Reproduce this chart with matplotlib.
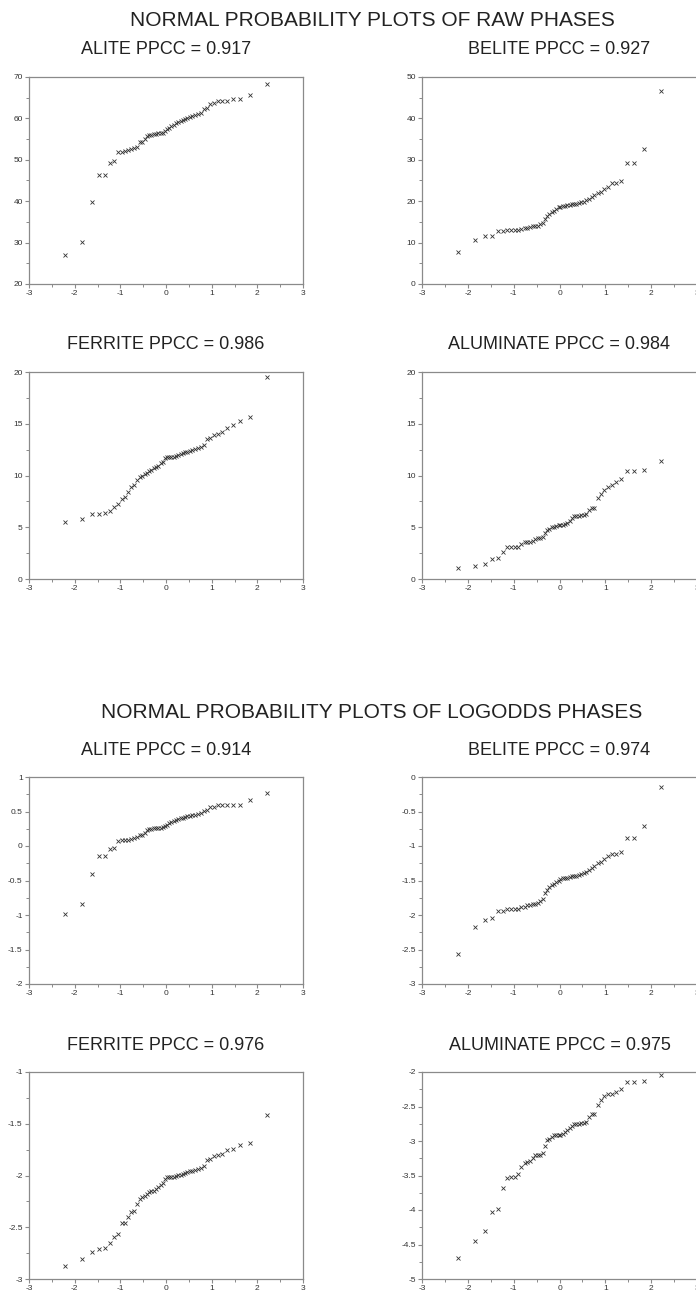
import matplotlib
matplotlib.use("Agg")
import matplotlib.pyplot as plt
from matplotlib.ticker import MultipleLocator

plt.rcParams["font.family"] = ["Liberation Sans", "DejaVu Sans"]
plt.rcParams["axes.unicode_minus"] = False

# normal order-statistic medians shared by every phase (52 clinker samples)
QUANTILES = [-2.22, -1.85, -1.63, -1.47, -1.34, -1.23, -1.14, -1.05, -0.97, -0.90,
             -0.83, -0.76, -0.70, -0.64, -0.58, -0.53, -0.47, -0.42, -0.37, -0.32,
             -0.27, -0.22, -0.17, -0.12, -0.07, -0.02, 0.02, 0.07, 0.12, 0.17,
             0.22, 0.27, 0.32, 0.37, 0.42, 0.47, 0.53, 0.58, 0.64, 0.70,
             0.76, 0.83, 0.90, 0.97, 1.05, 1.14, 1.23, 1.34, 1.47, 1.63,
             1.85, 2.22]

# sorted raw phase contents (wt %)
alite_raw = [26.9, 30.2, 39.8, 46.3, 46.3, 49.2, 49.6, 51.8, 52.0, 52.2,
             52.4, 52.6, 52.9, 53.2, 54.2, 54.2, 55.0, 55.8, 56.1, 56.1,
             56.2, 56.3, 56.4, 56.4, 56.5, 56.9, 57.4, 57.8, 58.2, 58.5,
             58.9, 59.1, 59.4, 59.7, 59.9, 60.0, 60.3, 60.6, 60.8, 61.0,
             61.4, 62.2, 62.5, 63.5, 63.6, 64.2, 64.3, 64.3, 64.6, 64.7,
             65.7, 68.3]
belite_raw = [7.7, 10.6, 11.6, 11.6, 12.7, 12.7, 13.1, 13.1, 13.1, 13.1,
              13.3, 13.5, 13.6, 13.8, 14.0, 14.1, 14.1, 14.4, 14.8, 15.7,
              16.4, 16.9, 17.3, 17.7, 18.1, 18.5, 18.7, 18.9, 18.9, 19.0,
              19.1, 19.3, 19.4, 19.4, 19.5, 19.7, 19.9, 20.3, 20.6, 21.1,
              21.5, 22.1, 22.3, 22.9, 23.5, 24.4, 24.5, 24.8, 29.2, 29.2,
              32.7, 46.5]
ferrite_raw = [5.5, 5.8, 6.25, 6.25, 6.4, 6.6, 6.95, 7.2, 7.77, 7.9,
               8.45, 8.85, 9.1, 9.55, 9.87, 10.0, 10.1, 10.26, 10.4, 10.5,
               10.7, 10.84, 10.9, 11.16, 11.3, 11.7, 11.75, 11.75, 11.78, 11.8,
               11.9, 12.0, 12.07, 12.17, 12.23, 12.3, 12.4, 12.5, 12.6, 12.7,
               12.8, 12.95, 13.5, 13.6, 13.9, 14.0, 14.2, 14.56, 14.9, 15.3,
               15.7, 19.5]
aluminate_raw = [1.04, 1.3, 1.45, 1.9, 2.0, 2.6, 3.05, 3.07, 3.07, 3.07,
                 3.4, 3.6, 3.6, 3.6, 3.7, 3.9, 3.95, 3.95, 4.05, 4.4,
                 4.7, 4.85, 5.0, 5.0, 5.08, 5.2, 5.2, 5.25, 5.35, 5.45,
                 5.65, 5.9, 6.1, 6.1, 6.1, 6.15, 6.15, 6.3, 6.7, 6.85,
                 6.9, 7.8, 8.25, 8.6, 8.9, 9.05, 9.4, 9.65, 10.4, 10.4,
                 10.5, 11.4]

# sorted log-odds of the same phase fractions
alite_lo = [-0.987, -0.837, -0.406, -0.15, -0.15, -0.04, -0.024, 0.077, 0.087, 0.087,
            0.092, 0.106, 0.116, 0.13, 0.155, 0.165, 0.19, 0.23, 0.25, 0.25,
            0.256, 0.26, 0.266, 0.266, 0.27, 0.29, 0.31, 0.33, 0.35, 0.36,
            0.38, 0.39, 0.40, 0.41, 0.42, 0.43, 0.435, 0.445, 0.45, 0.46,
            0.475, 0.503, 0.52, 0.566, 0.571, 0.59, 0.59, 0.59, 0.595, 0.60,
            0.66, 0.764]
belite_lo = [-2.564, -2.177, -2.07, -2.05, -1.94, -1.94, -1.92, -1.92, -1.92, -1.91,
             -1.89, -1.88, -1.86, -1.85, -1.84, -1.84, -1.83, -1.80, -1.77, -1.68,
             -1.64, -1.60, -1.57, -1.55, -1.52, -1.50, -1.48, -1.466, -1.466, -1.46,
             -1.45, -1.44, -1.437, -1.43, -1.42, -1.41, -1.39, -1.37, -1.345, -1.316,
             -1.287, -1.248, -1.234, -1.19, -1.15, -1.12, -1.12, -1.09, -0.885, -0.885,
             -0.706, -0.145]
ferrite_lo = [-2.871, -2.81, -2.739, -2.713, -2.697, -2.652, -2.59, -2.565, -2.461, -2.455,
              -2.397, -2.352, -2.339, -2.274, -2.229, -2.203, -2.194, -2.177, -2.161, -2.152,
              -2.145, -2.129, -2.113, -2.094, -2.071, -2.029, -2.013, -2.013, -2.011, -2.01,
              -2.003, -1.997, -1.994, -1.984, -1.977, -1.971, -1.961, -1.952, -1.945, -1.935,
              -1.926, -1.913, -1.855, -1.842, -1.816, -1.806, -1.79, -1.752, -1.748, -1.703,
              -1.69, -1.413]
aluminate_lo = [-4.69, -4.454, -4.304, -4.024, -3.98, -3.681, -3.531, -3.522, -3.522, -3.483,
                -3.377, -3.319, -3.30, -3.29, -3.242, -3.208, -3.208, -3.198, -3.174, -3.077,
                -2.99, -2.966, -2.942, -2.918, -2.908, -2.908, -2.908, -2.894, -2.874, -2.845,
                -2.816, -2.787, -2.749, -2.749, -2.749, -2.739, -2.739, -2.725, -2.652, -2.614,
                -2.614, -2.483, -2.401, -2.353, -2.324, -2.314, -2.285, -2.242, -2.15, -2.15,
                -2.13, -2.048]

PHASES = ["ALITE", "BELITE", "FERRITE", "ALUMINATE"]
RAW = [alite_raw, belite_raw, ferrite_raw, aluminate_raw]
LOGODDS = [alite_lo, belite_lo, ferrite_lo, aluminate_lo]
PPCC_RAW = [0.917, 0.927, 0.986, 0.984]
PPCC_LOGODDS = [0.914, 0.974, 0.976, 0.975]

# (ymin, ymax, major step) for each panel
YLIM_RAW = [(20, 70, 10), (0, 50, 10), (0, 20, 5), (0, 20, 5)]
YLIM_LOGODDS = [(-2, 1, 0.5), (-3, 0, 0.5), (-3, -1, 0.5), (-5, -2, 0.5)]

W, H = 696, 1297
COL_X = [29, 422]
COL_W = [274, 275]
ROW_TOP = [77, 372, 777, 1072]
ROW_H = 207

AX_GREY = "#8a8a8a"
TXT = "#222222"

fig = plt.figure(figsize=(W / 100, H / 100), dpi=100)


def panel(row, col, y, title, ylim):
    left, width = COL_X[col], COL_W[col]
    top = ROW_TOP[row]
    ax = fig.add_axes([left / W, 1 - (top + ROW_H) / H, width / W, ROW_H / H])
    ax.plot(QUANTILES, y, ls="none", marker="x", ms=3.2, mew=0.6, color="#333333")
    lo, hi, step = ylim
    ax.set_xlim(-3, 3)
    ax.set_ylim(lo, hi)
    ax.xaxis.set_major_locator(MultipleLocator(1))
    ax.xaxis.set_minor_locator(MultipleLocator(0.5))
    ax.yaxis.set_major_locator(MultipleLocator(step))
    ax.yaxis.set_minor_locator(MultipleLocator(step / 2))
    ax.yaxis.set_major_formatter(lambda v, pos: f"{v:g}")
    ax.xaxis.set_major_formatter(lambda v, pos: f"{v:g}")
    for sp in ax.spines.values():
        sp.set_color(AX_GREY)
        sp.set_linewidth(0.9)
    ax.tick_params(which="major", direction="out", length=3, width=0.8,
                   color=AX_GREY, labelsize=6, labelcolor="#333333", pad=1.5)
    ax.tick_params(which="minor", direction="out", length=2, width=0.7,
                   color=AX_GREY)
    cx = (left + width / 2) / W
    fig.text(cx, 1 - (top - 27) / H, title, ha="center", va="center",
             fontsize=13, color=TXT)
    return ax


for i, name in enumerate(PHASES):
    r, c = divmod(i, 2)
    panel(r, c, RAW[i], f"{name} PPCC = {PPCC_RAW[i]:.3f}", YLIM_RAW[i])
    panel(r + 2, c, LOGODDS[i], f"{name} PPCC = {PPCC_LOGODDS[i]:.3f}", YLIM_LOGODDS[i])

fig.text(372 / W, 1 - 20 / H, "NORMAL PROBABILITY PLOTS OF RAW PHASES",
         ha="center", va="center", fontsize=15, color=TXT)
fig.text(372 / W, 1 - 712 / H, "NORMAL PROBABILITY PLOTS OF LOGODDS PHASES",
         ha="center", va="center", fontsize=15, color=TXT)

fig.savefig("out.png", dpi=100)
